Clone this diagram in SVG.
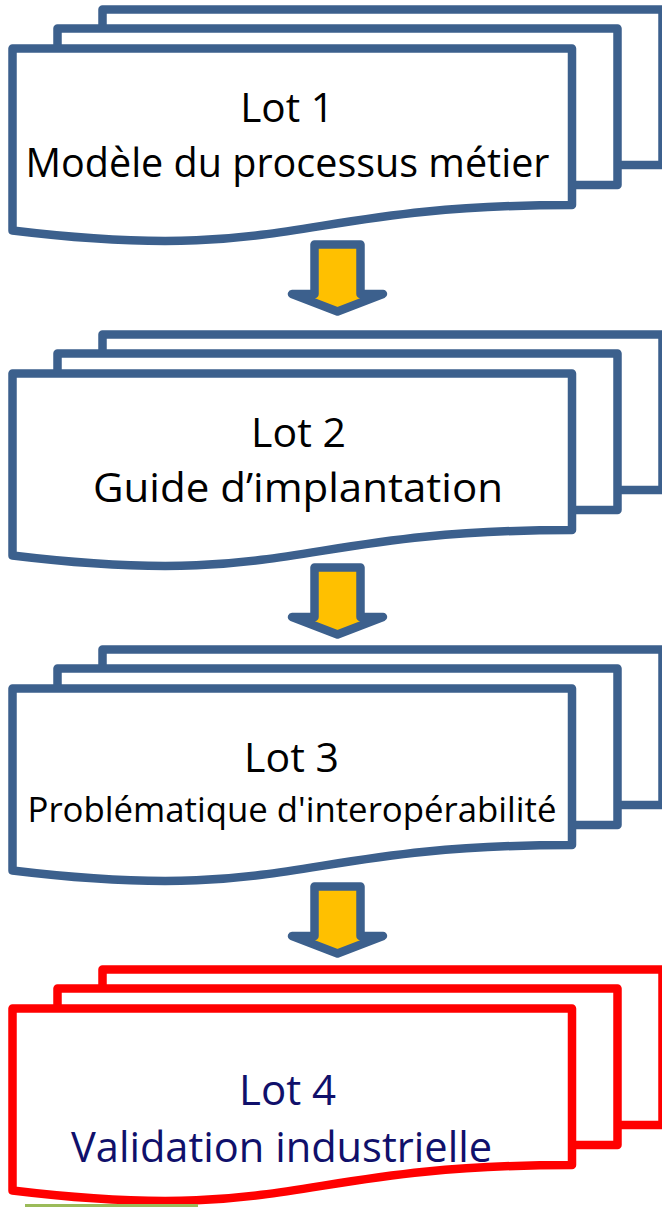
<svg xmlns="http://www.w3.org/2000/svg" width="662" height="1207" viewBox="0 0 662 1207">
<defs>
<style>
.pg{fill:none;stroke-width:8.5;stroke-linejoin:round;stroke-linecap:butt}
.fr{fill:#ffffff;stroke-width:8.5;stroke-linejoin:round}
.arrow{fill:#FFC000;stroke:#3C608D;stroke-width:8.5;stroke-linejoin:round}
.t{font-family:"Open Sans","Noto Sans","Liberation Sans",sans-serif;text-anchor:middle;fill:#000000}
.t4{fill:#10106B}
</style>
<g id="docshape">
<path class="pg" d="M102.5,28.5 V9.5 H662.5 V165 H617.5"/>
<path class="pg" d="M57.5,48.5 V28.5 H617.5 V185 H572"/>
<path class="fr" d="M12.5,48.5 H572 V205 C292.25,205 292.25,264.5 12.5,230.5 Z"/>
</g>
</defs>
<rect width="662" height="1207" fill="#ffffff"/>
<g id="lot1">
<use href="#docshape" stroke="#3C608D"/>
<text class="t" x="287" y="122" font-size="40.5">Lot 1</text>
<text class="t" x="287.5" y="177" font-size="40" textLength="524" lengthAdjust="spacingAndGlyphs">Modèle du processus métier</text>
</g>
<g id="lot2" transform="translate(0,325)">
<use href="#docshape" stroke="#3C608D"/>
<text class="t" x="298.5" y="122" font-size="41">Lot 2</text>
<text class="t" x="298" y="177" font-size="40" textLength="410" lengthAdjust="spacingAndGlyphs">Guide d’implantation</text>
</g>
<g id="lot3" transform="translate(0,640)">
<use href="#docshape" stroke="#3C608D"/>
<text class="t" x="291.5" y="131.7" font-size="41">Lot 3</text>
<text class="t" x="292" y="181.7" font-size="35" textLength="529" lengthAdjust="spacingAndGlyphs">Problématique d'interopérabilité</text>
</g>
<g id="lot4" transform="translate(0,960)">
<use href="#docshape" stroke="#FF0000"/>
<text class="t t4" x="287.5" y="145" font-size="42">Lot 4</text>
<text class="t t4" x="281.5" y="201.7" font-size="42" textLength="421" lengthAdjust="spacingAndGlyphs">Validation industrielle</text>
</g>
<g id="connectors">
<path class="arrow" d="M314.5,244.5 H360.5 V294 H383 L337.5,311.5 L292,294 H314.5 Z"/>
<path class="arrow" transform="translate(0,323)" d="M314.5,244.5 H360.5 V294 H383 L337.5,311.5 L292,294 H314.5 Z"/>
<path class="arrow" transform="translate(0,642)" d="M314.5,244.5 H360.5 V294 H383 L337.5,311.5 L292,294 H314.5 Z"/>
</g>
<rect x="25" y="1204" width="173" height="3" fill="#9BBB59"/>
</svg>
